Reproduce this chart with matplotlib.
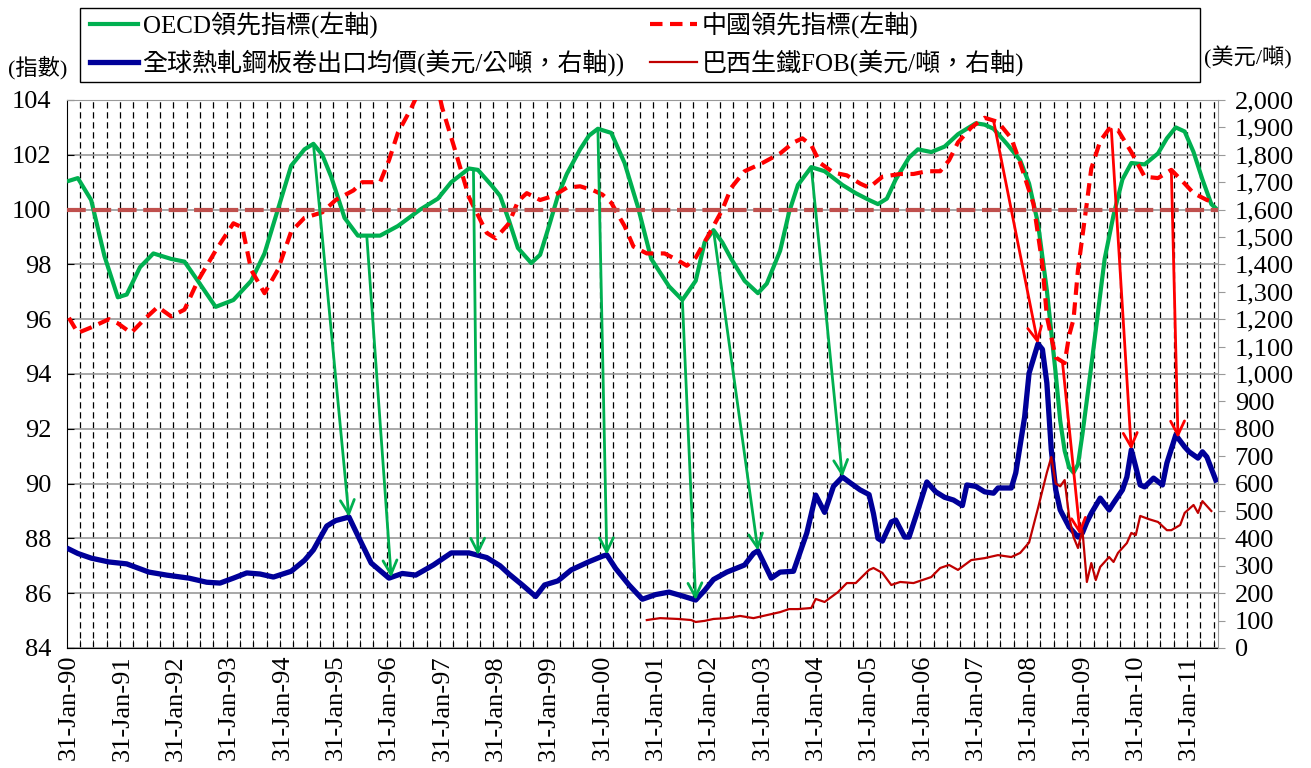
import numpy as np
import matplotlib.pyplot as plt
from matplotlib.lines import Line2D
from matplotlib.patches import Rectangle
from matplotlib.ticker import MultipleLocator, FixedLocator, FuncFormatter

# months counted from Jan-1990 (0) ; monthly chart, 259 categories
n_months = 259

# OECD leading indicator (left axis)
oecd_m = [0, 2, 5, 8, 11, 13, 16, 19, 23, 26, 29, 33, 37, 41, 44, 47, 50, 53, 55, 57,
          59, 62, 65, 70, 74, 79, 83, 86, 90, 92, 95, 97, 99, 101, 104, 106, 108, 110, 112, 115,
          117, 119, 122, 125, 128, 131, 135, 138, 141, 143, 145, 147, 149, 152, 155, 157, 160, 162, 164, 167,
          170, 174, 177, 180, 182, 184, 186, 189, 191, 194, 197, 200, 204, 206, 208, 211, 214, 216, 218, 220,
          222, 223, 224, 225, 226, 227, 228, 230, 231, 233, 235, 237, 239, 242, 245, 247, 249, 251, 253, 255,
          257, 258]
oecd_v = [101.05, 101.15, 100.35, 98.3, 96.8, 96.9, 97.9, 98.4, 98.2, 98.1, 97.4, 96.45, 96.7, 97.4, 98.4, 100.0, 101.6, 102.2, 102.4, 102.0,
          101.2, 99.7, 99.05, 99.05, 99.4, 100.0, 100.4, 101.0, 101.5, 101.45, 100.9, 100.5, 99.6, 98.6, 98.05, 98.35, 99.4, 100.5, 101.3, 102.2,
          102.7, 102.95, 102.8, 101.7, 100.1, 98.2, 97.2, 96.7, 97.4, 98.8, 99.25, 98.8, 98.2, 97.4, 96.95, 97.3, 98.5, 99.9, 100.9, 101.55,
          101.4, 100.9, 100.6, 100.35, 100.2, 100.4, 101.1, 101.9, 102.2, 102.1, 102.3, 102.75, 103.15, 103.1, 102.95, 102.4, 101.8, 100.95, 99.5, 97.05,
          94.0, 92.3, 91.2, 90.6, 90.4, 90.7, 91.8, 94.3, 95.6, 98.2, 99.8, 101.1, 101.7, 101.65, 102.05, 102.6, 103.0, 102.85, 102.1, 101.1,
          100.2, 100.05]

# China leading indicator (left axis)
china_m = [0, 2, 5, 9, 11, 14, 17, 20, 23, 26, 29, 33, 37, 39, 41, 44, 47, 50, 53, 57,
           60, 64, 66, 70, 72, 74, 77, 79, 81, 83, 84, 87, 90, 94, 96, 99, 101, 103, 106, 109,
           112, 115, 118, 120, 122, 125, 127, 130, 134, 137, 139, 141, 144, 147, 149, 152, 156, 160, 163, 165,
           167, 169, 172, 175, 178, 180, 183, 187, 190, 193, 196, 198, 200, 203, 206, 209, 212, 214, 217, 219,
           220, 222, 224, 225, 226, 227, 229, 230, 232, 234, 236, 239, 242, 245, 248, 251, 253, 256, 258]
china_v = [96.05, 95.5, 95.7, 96.0, 95.85, 95.5, 96.0, 96.45, 96.1, 96.35, 97.4, 98.5, 99.5, 99.35, 97.8, 96.95, 97.8, 99.2, 99.7, 99.9,
           100.35, 100.7, 101.0, 101.0, 101.8, 102.8, 103.7, 104.4, 104.8, 104.4, 103.7, 102.1, 100.45, 99.15, 98.95, 99.5, 100.3, 100.6, 100.35, 100.5,
           100.8, 100.85, 100.7, 100.55, 100.25, 99.4, 98.65, 98.4, 98.4, 98.15, 97.95, 98.25, 99.1, 100.0, 100.8, 101.4, 101.7, 102.05, 102.45, 102.6,
           102.35, 101.7, 101.35, 101.25, 100.95, 100.8, 101.2, 101.3, 101.3, 101.4, 101.4, 101.8, 102.45, 103.0, 103.35, 103.2, 102.6, 101.7, 100.2, 98.0,
           96.1, 94.6, 94.4, 95.4, 96.0, 97.8, 100.25, 101.5, 102.5, 102.95, 102.9, 102.1, 101.2, 101.15, 101.45, 100.95, 100.6, 100.35, 100.25]

# global HRC export price, USD/t (right axis)
hrc_m = [0, 2, 5, 9, 13, 18, 22, 27, 31, 34, 37, 40, 43, 46, 50, 53, 55, 58, 60, 63,
         65, 68, 72, 75, 78, 82, 86, 90, 94, 97, 99, 102, 105, 107, 110, 113, 117, 120, 121, 123,
         126, 129, 132, 135, 138, 141, 143, 145, 148, 152, 154, 155, 158, 160, 163, 166, 168, 170, 172, 174,
         176, 178, 180, 181, 182, 183, 185, 186, 188, 189, 191, 193, 195, 197, 199, 201, 202, 204, 206, 208,
         209, 212, 213, 215, 216, 218, 219, 220, 221, 222, 223, 225, 227, 228, 229, 230, 232, 234, 235, 237,
         238, 239, 240, 241, 242, 244, 246, 247, 249, 251, 252, 254, 255, 256, 258]
hrc_v = [361, 345, 328, 314, 307, 277, 266, 255, 240, 237, 255, 274, 270, 259, 280, 320, 358, 445, 465, 478,
         410, 310, 255, 272, 266, 303, 347, 347, 330, 300, 270, 230, 188, 230, 245, 285, 315, 335, 340, 290,
         230, 178, 195, 204, 190, 175, 210, 250, 277, 303, 345, 355, 255, 277, 280, 420, 558, 495, 590, 624,
         600, 577, 560, 490, 400, 390, 460, 467, 405, 405, 504, 606, 570, 550, 540, 520, 595, 590, 570, 565,
         584, 584, 639, 843, 1003, 1110, 1090, 967, 723, 577, 504, 442, 405, 420, 460, 492, 547, 504, 529, 577,
         624, 723, 661, 595, 588, 620, 595, 675, 777, 734, 716, 693, 716, 697, 613]

# Brazil pig iron FOB, USD/t (right axis)
pig_m = [130, 133, 137, 140, 141, 143, 145, 148, 151, 154, 157, 160, 162, 164, 167, 168, 170, 173, 175, 177,
         180, 181, 183, 185, 187, 190, 194, 196, 198, 200, 203, 206, 209, 212, 214, 216, 218, 220, 221, 222,
         223, 224, 225, 226, 227, 228, 229, 230, 231, 232, 234, 235, 236, 238, 239, 240, 241, 243, 245, 247,
         248, 250, 251, 253, 254, 255, 257]
pig_v = [102, 109, 106, 102, 95, 99, 106, 109, 117, 109, 120, 131, 142, 142, 146, 179, 168, 204, 237, 237,
         285, 292, 274, 230, 241, 237, 259, 292, 303, 285, 321, 328, 339, 332, 347, 385, 510, 640, 697, 600,
         590, 613, 480, 405, 365, 430, 241, 310, 248, 296, 332, 314, 347, 383, 420, 412, 482, 470, 460, 430,
         430, 449, 493, 522, 493, 536, 500]

# arrows: (month on leading indicator, month on steel price)
green_arrows = [(55, 63), (67, 72.5), (91, 92), (119, 121), (138, 141), (145, 155), (167, 174)]
red_arrows = [(208, 218), (223.5, 227.5), (234.5, 239), (248, 249.5)]

years = list(range(1990, 2012))
year_labels = ['31-Jan-%02d' % (y % 100) for y in years]

labels = ['OECD領先指標(左軸)', '全球熱軋鋼板卷出口均價(美元/公噸，右軸))',
          '中國領先指標(左軸)', '巴西生鐵FOB(美元/噸，右軸)']

plt.rcParams['font.family'] = ['Liberation Serif', 'Noto Sans CJK TC']

W, H = 1311, 768
fig = plt.figure(figsize=(W / 100, H / 100), dpi=100)
ax1 = fig.add_axes([66.7 / W, 1 - 648 / H, (1218 - 66.7) / W, 548 / H])
ax2 = ax1.twinx()

green, red, navy, brick = '#00B050', '#FF0000', '#000099', '#C00000'

ax1.plot(oecd_m, oecd_v, color=green, lw=3, solid_joinstyle='round', zorder=3)
ax1.plot(china_m, china_v, color=red, lw=3, dashes=(3, 1.8), zorder=3)
ax1.axhline(100, color='#C0504D', lw=3, dashes=(4.5, 1.6), zorder=4)
ax2.plot(hrc_m, hrc_v, color=navy, lw=3.8, solid_joinstyle='round', zorder=2)
ax2.plot(pig_m, pig_v, color=brick, lw=1.6, zorder=2)

ax1.set_xlim(-0.5, n_months - 0.5)
ax1.set_ylim(84, 104)
ax2.set_ylim(0, 2000)

# yearly labels, quarterly dashed gridlines
ax1.set_xticks([12 * (y - 1990) for y in years])
ax1.set_xticklabels(year_labels, rotation=90)
ax1.xaxis.set_minor_locator(FixedLocator(np.arange(2.5, n_months, 3)))
ax1.yaxis.set_major_locator(MultipleLocator(2))
ax1.set_axisbelow(True)
ax1.grid(which='major', axis='y', color='#999999', lw=1.2)
ax1.grid(which='minor', axis='x', color='black', lw=0.9, linestyle=(0, (5, 3)))
ax1.tick_params(axis='y', direction='in', length=5, labelsize=19, pad=11)
ax1.tick_params(axis='x', which='major', length=0, labelsize=19, pad=5)
ax1.tick_params(axis='x', which='minor', direction='in', length=6)
ax1.spines['top'].set_color('#999999')
ax1.spines['right'].set_visible(False)

ax2.yaxis.set_major_locator(MultipleLocator(100))
ax2.yaxis.set_major_formatter(FuncFormatter(lambda v, p: '{:,.0f}'.format(v)))
ax2.tick_params(axis='y', direction='out', length=5, color='#999999', labelsize=19, pad=7)
for s in ['top', 'bottom', 'left']:
    ax2.spines[s].set_visible(False)
ax2.spines['right'].set_color('#999999')

head = '->,head_length=0.5,head_width=0.25'
for s, e in green_arrows:
    ax2.annotate('', xy=(e, np.interp(e, hrc_m, hrc_v)),
                 xytext=(s, np.interp(s, oecd_m, oecd_v)), textcoords=ax1.transData,
                 arrowprops=dict(arrowstyle=head, color=green, lw=2, mutation_scale=20,
                                 shrinkA=0, shrinkB=0))
for s, e in red_arrows:
    ax2.annotate('', xy=(e, np.interp(e, hrc_m, hrc_v)),
                 xytext=(s, np.interp(s, china_m, china_v)), textcoords=ax1.transData,
                 arrowprops=dict(arrowstyle=head, color=red, lw=2, mutation_scale=20,
                                 shrinkA=0, shrinkB=0))

# legend in a wide box
handles = [Line2D([], [], color=green, lw=3),
           Line2D([], [], color=navy, lw=3.8),
           Line2D([], [], color=red, lw=3, dashes=(3, 1.8)),
           Line2D([], [], color=brick, lw=1.6)]
fig.patches.append(Rectangle((80 / W, 1 - 82 / H), 1120 / W, 74 / H, transform=fig.transFigure,
                             fill=False, edgecolor='black', lw=1))
fig.legend(handles, labels, ncol=2, frameon=False,
           loc='upper left', bbox_to_anchor=(70 / W, 1 + 9 / H), fontsize=18,
           handlelength=1.9, handletextpad=0.2, columnspacing=1.0, labelspacing=0.45,
           borderpad=0.3)

fig.text(8 / W, 1 - 68 / H, '(指數)', fontsize=16, va='center', ha='left')
fig.text(1204 / W, 1 - 58 / H, '(美元/噸)', fontsize=16, va='center', ha='left')

fig.savefig('out.png', dpi=100)
